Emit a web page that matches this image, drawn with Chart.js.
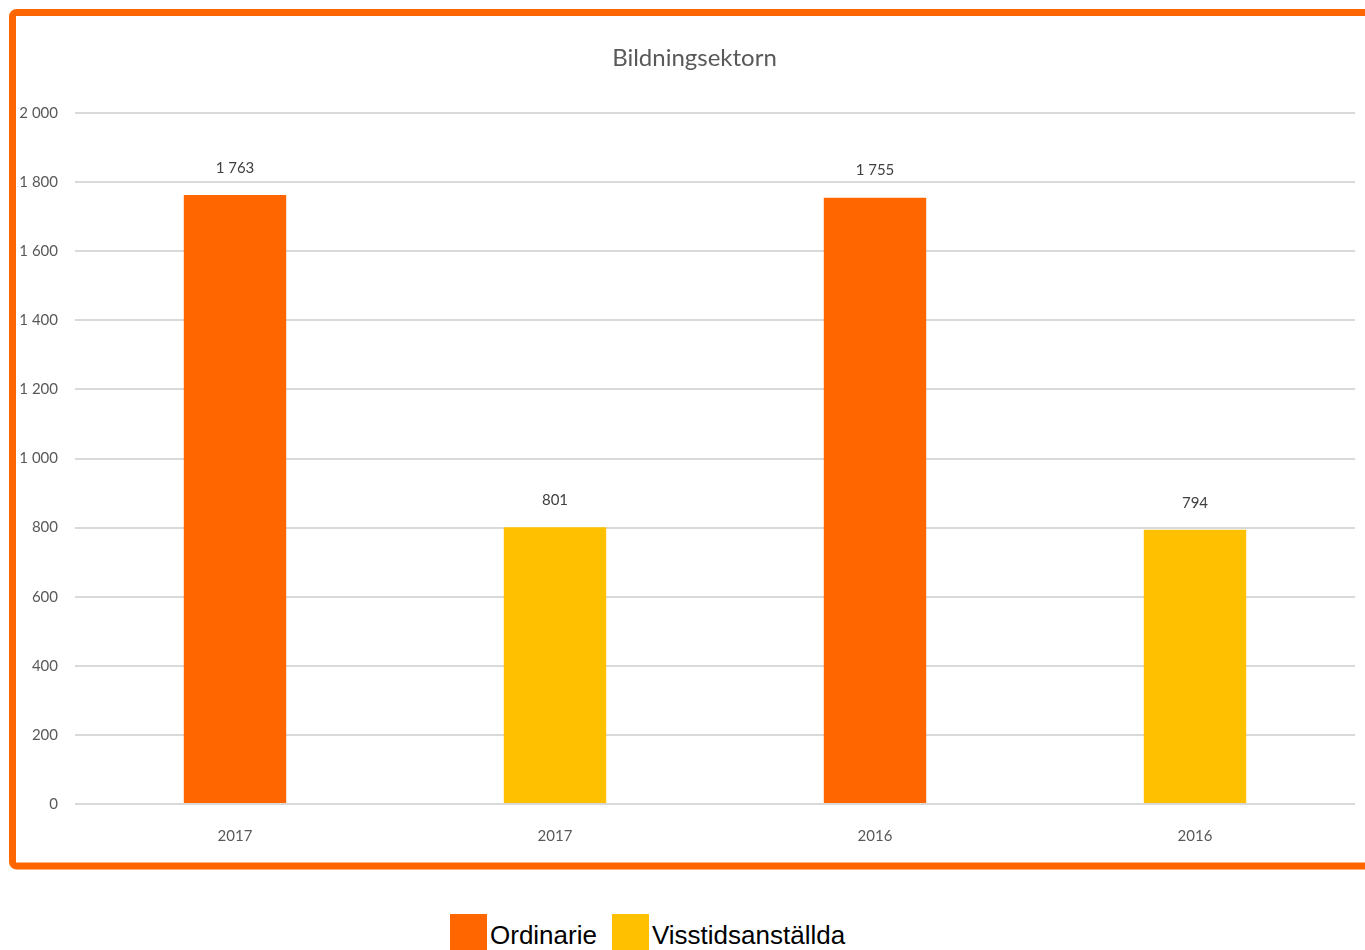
<!DOCTYPE html>
<html>
<head>
<meta charset="utf-8">
<script src="https://cdn.jsdelivr.net/npm/chart.js@4"></script>
<style>
  html, body { margin: 0; padding: 0; background: #fff; width: 1365px; height: 950px; overflow: hidden; }
  #wrap { position: absolute; left: 0; top: 0; width: 1365px; height: 870px; }
  #legend { position: absolute; left: 450px; top: 914px; display: flex; font-family: "Liberation Sans", Arial, sans-serif; font-size: 26px; color: #000; }
  #legend .item { display: flex; align-items: flex-start; margin-right: 15px; }
  #legend .box { width: 37px; height: 37px; margin-right: 3px; }
  #legend .txt { line-height: 37px; position: relative; top: 3px; }
</style>
</head>
<body>
<div id="wrap"><canvas id="chart" width="1365" height="870"></canvas></div>
<div id="legend"></div>
<script>
  var years = ['2017', '2017', '2016', '2016'];
  var ordinarie = [1763, null, 1755, null];
  var visstid = [null, 801, null, 794];
  var yTicks = { min: 0, max: 2000, step: 200 };

  var face = 'Lato, "Liberation Sans", sans-serif';

  // 1763 -> "1 763"
  var fmt = function(v){
    return String(v).replace(/\B(?=(\d{3})+(?!\d))/g, ' ');
  };

  // orange frame round the chart, title nudged right a little
  var framePlugin = {
    id: 'frame',
    afterLayout: function(chart){
      if (chart.titleBlock) {
        chart.titleBlock.left += 9;
        chart.titleBlock.right += 9;
      }
    },
    afterDraw: function(chart){
      var ctx = chart.ctx;
      ctx.save();
      ctx.strokeStyle = '#FF6600';
      ctx.lineWidth = 7;
      ctx.beginPath();
      ctx.roundRect(12.5, 12.5, 1420, 853.5, 4);
      ctx.stroke();
      ctx.restore();
    }
  };

  // value above each bar
  var valuePlugin = {
    id: 'values',
    afterDatasetsDraw: function(chart){
      var ctx = chart.ctx;
      ctx.save();
      ctx.font = '15px ' + face;
      ctx.fillStyle = '#404040';
      ctx.textAlign = 'center';
      ctx.textBaseline = 'middle';
      chart.data.datasets.forEach(function(ds, i){
        chart.getDatasetMeta(i).data.forEach(function(bar, j){
          if (ds.data[j] == null) return;
          ctx.fillText(fmt(ds.data[j]), bar.x, bar.y - 27);
        });
      });
      ctx.restore();
    }
  };

  var chart = new Chart(document.getElementById('chart'), {
    type: 'bar',
    data: {
      labels: years,
      datasets: [
        { label: 'Ordinarie', data: ordinarie, backgroundColor: '#FF6600' },
        { label: 'Visstidsanställda', data: visstid, backgroundColor: '#FFC000' }
      ]
    },
    options: {
      responsive: false,
      animation: false,
      layout: { padding: { left: 16, right: 10, top: 0, bottom: 2 } },
      datasets: { bar: { categoryPercentage: 0.8, barPercentage: 0.4 } },
      plugins: {
        legend: { display: false },
        tooltip: { enabled: false },
        title: {
          display: true,
          text: 'Bildningsektorn',
          color: '#595959',
          font: { family: face, size: 24, weight: 'normal' },
          padding: { top: 43.6, bottom: 40.6 }
        }
      },
      scales: {
        x: {
          stacked: true,
          grid: { display: false, drawTicks: false },
          border: { display: false },
          ticks: { color: '#595959', padding: 23, font: { family: face, size: 15 } }
        },
        y: {
          stacked: true,
          min: yTicks.min,
          max: yTicks.max,
          afterFit: function(scale){ scale.width = 59; },
          grid: { color: '#D9D9D9', lineWidth: 2, drawTicks: false },
          border: { display: false },
          ticks: {
            stepSize: yTicks.step,
            color: '#595959',
            padding: 17,
            font: { family: face, size: 15 },
            callback: function(v){ return fmt(v); }
          }
        }
      }
    },
    plugins: [framePlugin, valuePlugin]
  });

  // legend under the frame
  var legend = document.getElementById('legend');
  chart.data.datasets.forEach(function(ds){
    var item = document.createElement('div');
    item.className = 'item';
    var box = document.createElement('div');
    box.className = 'box';
    box.style.background = ds.backgroundColor;
    var txt = document.createElement('span');
    txt.className = 'txt';
    txt.textContent = ds.label;
    item.appendChild(box);
    item.appendChild(txt);
    legend.appendChild(item);
  });
</script>
</body>
</html>
